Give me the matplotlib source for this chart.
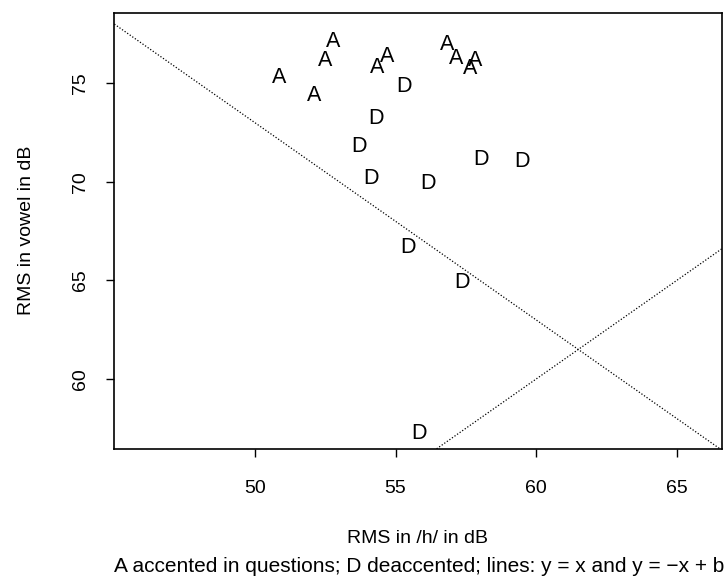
"""RMS of /h/ vs RMS of vowel: accented (A) vs deaccented (D) tokens."""

import matplotlib
matplotlib.use("Agg")
import matplotlib.pyplot as plt
import numpy as np

plt.rcParams["font.family"] = ["Liberation Sans", "DejaVu Sans"]

# accented in questions
a_h = [50.86, 52.11, 52.50, 52.79, 54.35, 54.69, 56.84, 57.15, 57.65, 57.84]
a_vowel = [75.30, 74.36, 76.18, 77.11, 75.79, 76.35, 76.98, 76.27, 75.76, 76.18]

# deaccented
d_h = [55.30, 54.29, 53.69, 54.12, 56.17, 58.03, 59.49, 55.44, 57.36, 55.82]
d_vowel = [74.83, 73.19, 71.78, 70.18, 69.93, 71.11, 71.02, 66.69, 64.92, 57.26]

b = 123.0
x_ticks = [50, 55, 60, 65]
y_ticks = [60, 65, 70, 75]

fig = plt.figure(figsize=(7.25, 5.77), dpi=100)
ax = fig.add_axes([0.1566, 0.2218, 0.8388, 0.7562])

for x, y in zip(a_h, a_vowel):
    ax.text(x, y, "A", ha="center", va="center", fontsize=15.5)
for x, y in zip(d_h, d_vowel):
    ax.text(x, y, "D", ha="center", va="center", fontsize=15.5)

xs = np.array([40, 70])
ax.plot(xs, xs, color="black", lw=0.9, ls=(0, (1, 1.5)))
ax.plot(xs, -xs + b, color="black", lw=0.9, ls=(0, (1, 1.5)))

ax.set_xlim(44.97, 66.6)
ax.set_ylim(56.45, 78.58)
ax.set_xticks(x_ticks)
ax.set_yticks(y_ticks)
ax.tick_params(axis="x", length=6, width=1, pad=16, labelsize=14)
ax.tick_params(axis="y", length=6, width=1, pad=12, labelsize=14)
for lab in ax.get_yticklabels():
    lab.set_rotation(90)
    lab.set_va("center")
for s in ax.spines.values():
    s.set_linewidth(1.2)

fig.text(0.037, 0.6, "RMS in vowel in dB", rotation=90, ha="center",
         va="center", fontsize=14)
fig.text(0.576, 0.066, "RMS in /h/ in dB", ha="center", va="center", fontsize=14)
fig.text(0.578, 0.019,
         "A accented in questions; D deaccented; lines: y = x and y = \u2212x + b",
         ha="center", va="center", fontsize=15)

fig.savefig("out.png", dpi=100)
